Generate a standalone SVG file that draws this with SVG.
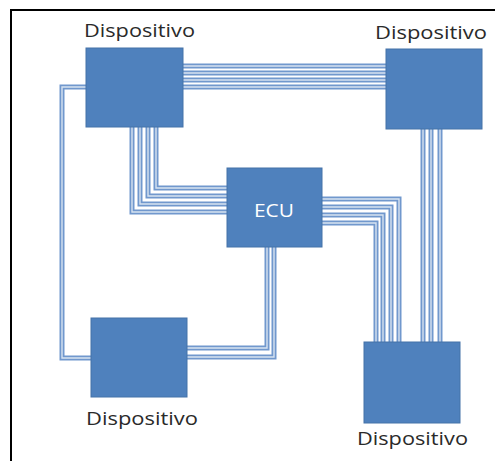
<svg xmlns="http://www.w3.org/2000/svg" xmlns:xlink="http://www.w3.org/1999/xlink" width="495" height="461" viewBox="0 0 495 461">
<style>
.frame{fill:none;stroke:#000;stroke-width:2}
.wo{fill:none;stroke:#7198cd;stroke-width:5}
.wi{fill:none;stroke:#d8e3f1;stroke-width:1.4}
.box{fill:#4f81bd;stroke:#4572a8;stroke-width:1}
.lbl{font-family:"Open Sans","Liberation Sans",sans-serif;font-size:19px;fill:#2a2a2a}
.ecu{font-family:"Open Sans","Liberation Sans",sans-serif;font-size:19px;fill:#ffffff}
</style>
<defs>
<g id="wires">
<path d="M180,66 H389"/>
<path d="M180,73 H389"/>
<path d="M180,80 H389"/>
<path d="M180,87 H389"/>
<path d="M89,87 H62 V358 H94"/>
<path d="M156,124 V188 H230"/>
<path d="M148,124 V196 H230"/>
<path d="M140,124 V204 H230"/>
<path d="M132,124 V212 H230"/>
<path d="M319,199 H399 V345"/>
<path d="M319,207 H391 V345"/>
<path d="M319,215 H383 V345"/>
<path d="M319,223 H376 V345"/>
<path d="M423,126 V345"/>
<path d="M431,126 V345"/>
<path d="M440,126 V345"/>
<path d="M267,244 V348 H184"/>
<path d="M274,244 V357 H184"/>
</g>
</defs>
<rect x="0" y="0" width="495" height="461" fill="#ffffff"/>
<path class="frame" d="M11,470 V10 H500"/>
<g id="connectors">
<use xlink:href="#wires" class="wo"/>
<use xlink:href="#wires" class="wi"/>
</g>
<g id="dev-tl">
<rect class="box" x="86" y="48" width="97" height="79"/>
<text class="lbl" x="84" y="37" textLength="111" lengthAdjust="spacingAndGlyphs">Dispositivo</text>
</g>
<g id="dev-tr">
<rect class="box" x="386" y="49" width="96" height="80"/>
<text class="lbl" x="375" y="39" textLength="112" lengthAdjust="spacingAndGlyphs">Dispositivo</text>
</g>
<g id="ecu">
<rect class="box" x="227" y="168" width="95" height="79"/>
<text class="ecu" x="254" y="217" textLength="40" lengthAdjust="spacingAndGlyphs">ECU</text>
</g>
<g id="dev-bl">
<rect class="box" x="91" y="318" width="96" height="79"/>
<text class="lbl" x="86" y="425" textLength="112" lengthAdjust="spacingAndGlyphs">Dispositivo</text>
</g>
<g id="dev-br">
<rect class="box" x="364" y="342" width="96" height="81"/>
<text class="lbl" x="357" y="445" textLength="111" lengthAdjust="spacingAndGlyphs">Dispositivo</text>
</g>
</svg>
